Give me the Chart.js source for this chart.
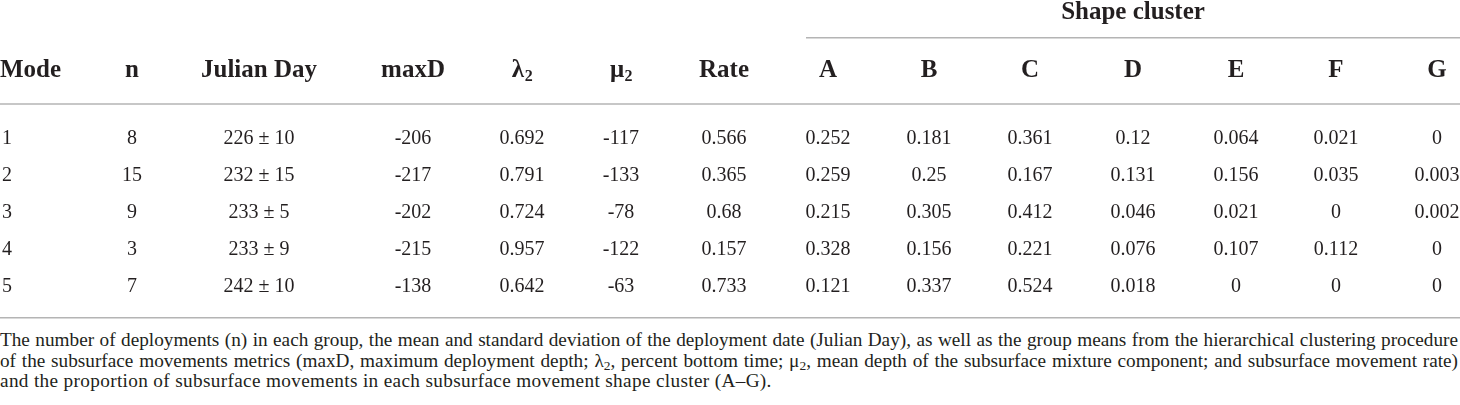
<!DOCTYPE html>
<html>
<head>
<meta charset="utf-8">
<title>Mode summary table</title>
<script src="https://cdn.jsdelivr.net/npm/chart.js@4.4.0/dist/chart.umd.min.js"></script>
<style>
  html, body { margin: 0; padding: 0; background: #fff; }
  #wrap { position: relative; width: 1460px; height: 405px; overflow: hidden; }
  #table-box { position: absolute; left: 0; top: 0; width: 1460px; height: 326px; }
  #caption {
    position: absolute; left: 0; top: 330px; width: 1458px;
    font-family: "Liberation Serif", serif; font-size: 17px; line-height: 20.5px; color: #231f20;
  }
  #caption div { white-space: nowrap; }
  #caption .just { text-align: justify; text-align-last: justify; }
  #caption sub { font-size: 70%; line-height: 0; vertical-align: -0.25em; }
</style>
</head>
<body>
<div id="wrap">
  <div id="table-box"><canvas id="table-chart"></canvas></div>
  <div id="caption">
    <div class="just" id="cap1">The number of deployments (n) in each group, the mean and standard deviation of the deployment date (Julian Day), as well as the group means from the hierarchical clustering procedure</div>
    <div class="just">of the subsurface movements metrics (maxD, maximum deployment depth; λ<sub>2</sub>, percent bottom time; μ<sub>2</sub>, mean depth of the subsurface mixture component; and subsurface movement rate)</div>
    <div id="cap3">and the proportion of subsurface movements in each subsurface movement shape cluster (A–G).</div>
  </div>
</div>

<script>
// Table data
const columns = ['Mode', 'n', 'Julian Day', 'maxD', 'λ₂', 'μ₂', 'Rate', 'A', 'B', 'C', 'D', 'E', 'F', 'G'];
const groupTitle = 'Shape cluster';

const modes = [1, 2, 3, 4, 5];
const nDeployments = [8, 15, 9, 3, 7];
const julianDayMean = [226, 232, 233, 233, 242];
const julianDaySd = [10, 15, 5, 9, 10];
const maxD = [-206, -217, -202, -215, -138];
const lambda2 = [0.692, 0.791, 0.724, 0.957, 0.642];
const mu2 = [-117, -133, -78, -122, -63];
const rate = [0.566, 0.365, 0.68, 0.157, 0.733];
const clusterA = [0.252, 0.259, 0.215, 0.328, 0.121];
const clusterB = [0.181, 0.25, 0.305, 0.156, 0.337];
const clusterC = [0.361, 0.167, 0.412, 0.221, 0.524];
const clusterD = [0.12, 0.131, 0.046, 0.076, 0.018];
const clusterE = [0.064, 0.156, 0.021, 0.107, 0];
const clusterF = [0.021, 0.035, 0, 0.112, 0];
const clusterG = [0, 0.003, 0.002, 0, 0];

// Layout (x in page units, y in row units: data row i sits at y = mode number)
const columnX = [0, 132, 259, 413, 522, 621, 724, 828, 929, 1030, 1133, 1236, 1336, 1437];
const groupFromX = 806;
const rowTop = -2.7, rowBottom = 6.11;
const groupRow = -2.35, groupRuleRow = -1.68, headerRow = -0.8, headRuleRow = 0.11, footRuleRow = 5.89;

const INK = '#231f20';
const RULE = '#b4b4b4';
const SERIF = '"Liberation Serif", "Times New Roman", serif';

const julianDay = julianDayMean.map((m, i) => m + ' ± ' + julianDaySd[i]);
const cellValues = [modes, nDeployments, julianDay, maxD, lambda2, mu2, rate,
  clusterA, clusterB, clusterC, clusterD, clusterE, clusterF, clusterG];

// Size the caption so the first line nearly fills the width, like the reference
(function fitCaption() {
  const m = document.createElement('canvas').getContext('2d');
  m.font = '17px ' + SERIF;
  const w1 = m.measureText(document.getElementById('cap1').textContent).width;
  const size = Math.min(20, 17 * 1440 / w1);
  document.getElementById('caption').style.fontSize = size.toFixed(2) + 'px';
  m.font = size + 'px ' + SERIF;
  const t3 = document.getElementById('cap3').textContent;
  const w3 = m.measureText(t3).width;
  const spacing = Math.max(0, (772 - w3) / t3.length);
  document.getElementById('cap3').style.letterSpacing = spacing.toFixed(2) + 'px';
})();

// draw text with an optional trailing subscript 2 (λ₂, μ₂)
function drawLabel(ctx, text, x, y, size, weight, align) {
  let base = text, sub = '';
  if (text.endsWith('₂')) { base = text.slice(0, -1); sub = '2'; }
  ctx.font = weight + ' ' + size + 'px ' + SERIF;
  const wBase = ctx.measureText(base).width;
  let wSub = 0;
  if (sub) {
    ctx.font = weight + ' ' + Math.round(size * 0.65) + 'px ' + SERIF;
    wSub = ctx.measureText(sub).width;
  }
  const left = align === 'left' ? x : x - (wBase + wSub) / 2;
  ctx.textAlign = 'left';
  ctx.textBaseline = 'middle';
  ctx.fillStyle = INK;
  ctx.font = weight + ' ' + size + 'px ' + SERIF;
  ctx.fillText(base, left, y);
  if (sub) {
    ctx.font = weight + ' ' + Math.round(size * 0.65) + 'px ' + SERIF;
    ctx.fillText(sub, left + wBase + 0.5, y + size * 0.28);
  }
}

const tablePlugin = {
  id: 'tableCells',
  afterDatasetsDraw(chart) {
    const ctx = chart.ctx;
    const xs = chart.scales.x, ys = chart.scales.y;
    ctx.save();

    // rules
    ctx.strokeStyle = RULE;
    ctx.lineWidth = 1.5;
    [headRuleRow, footRuleRow].forEach(r => {
      const y = ys.getPixelForValue(r);
      ctx.beginPath();
      ctx.moveTo(xs.getPixelForValue(xs.min), y);
      ctx.lineTo(xs.getPixelForValue(xs.max), y);
      ctx.stroke();
    });
    const gy = ys.getPixelForValue(groupRuleRow);
    ctx.beginPath();
    ctx.moveTo(xs.getPixelForValue(groupFromX), gy);
    ctx.lineTo(xs.getPixelForValue(xs.max), gy);
    ctx.stroke();

    // group title over the cluster columns
    drawLabel(ctx, groupTitle, xs.getPixelForValue(columnX[10]), ys.getPixelForValue(groupRow), 25, 'bold', 'center');

    // column headers
    const hy = ys.getPixelForValue(headerRow);
    columns.forEach((name, c) => {
      drawLabel(ctx, name, xs.getPixelForValue(columnX[c]), hy, 25, 'bold', c === 0 ? 'left' : 'center');
    });

    // body cells, placed at each point element
    chart.data.datasets.forEach((ds, c) => {
      const meta = chart.getDatasetMeta(c);
      meta.data.forEach((el, i) => {
        drawLabel(ctx, String(ds.cellText[i]), el.x + (c === 0 ? 2 : 0), el.y + 1.5, 20, 'normal', c === 0 ? 'left' : 'center');
      });
    });
    ctx.restore();
  }
};

const datasets = columns.map((name, c) => ({
  label: name,
  data: modes.map(m => ({ x: columnX[c], y: m })),
  cellText: cellValues[c],
  pointRadius: 0,
  pointHoverRadius: 0,
  showLine: false
}));

new Chart(document.getElementById('table-chart'), {
  type: 'scatter',
  data: { datasets: datasets },
  options: {
    responsive: true,
    maintainAspectRatio: false,
    animation: false,
    events: [],
    layout: { padding: 0 },
    scales: {
      x: { type: 'linear', min: 0, max: 1460, display: false },
      y: { type: 'linear', min: rowTop, max: rowBottom, reverse: true, display: false }
    },
    plugins: {
      legend: { display: false },
      tooltip: { enabled: false }
    }
  },
  plugins: [tablePlugin]
});
</script>
</body>
</html>
